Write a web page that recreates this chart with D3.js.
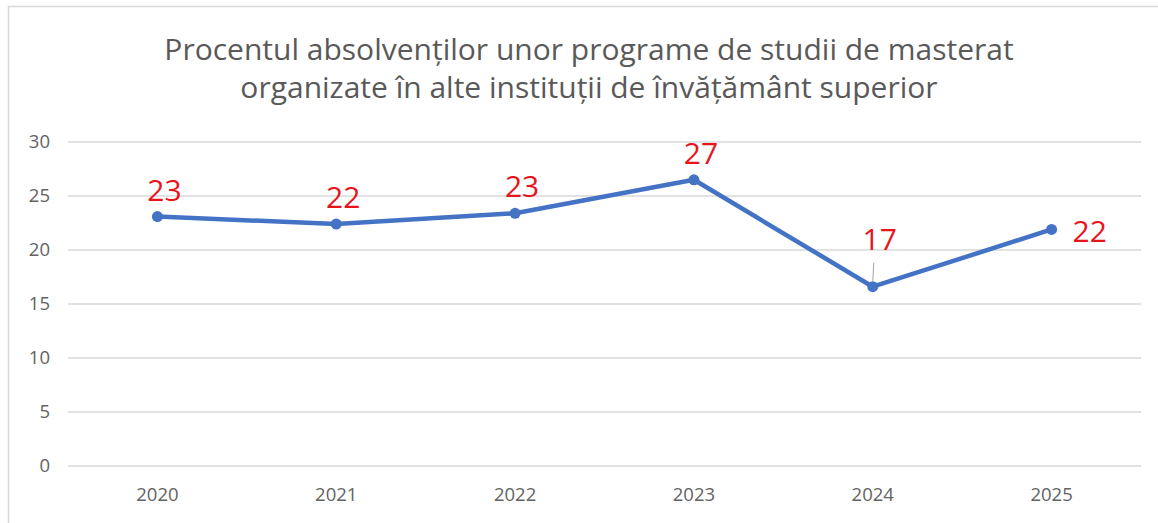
<!DOCTYPE html>
<html>
<head>
<meta charset="utf-8">
<script src="https://cdn.jsdelivr.net/npm/d3@7"></script>
<style>
    html, body { margin: 0; padding: 0; background: #fff; }
    svg { display: block; }
</style>
</head>
<body>
<div id="chart"></div>
<script>
/*
 * Chart data.
 */
var years = ['2020', '2021', '2022', '2023', '2024', '2025'];
var values = [23.1, 22.4, 23.4, 26.5, 16.6, 21.9];
var labels = ['23', '22', '23', '27', '17', '22'];
var yTicks = [0, 5, 10, 15, 20, 25, 30];
var titleLines = [
    'Procentul absolvenților unor programe de studii de masterat',
    'organizate în alte instituții de învățământ superior'
];

var width = 1158, height = 523;
var margin = {top: 142, right: 17, bottom: 57, left: 68};
var font = '"Open Sans", Lato, sans-serif';

var svg = d3.select('#chart').append('svg')
    .attr('width', width)
    .attr('height', height);
/*
 * Chart area border (left and top only are visible in the crop).
 */
svg.append('path')
    .attr('d', 'M8.5,' + height + 'V6.5H' + width)
    .attr('fill', 'none')
    .attr('stroke', '#d9d9d9')
    .attr('stroke-width', 1.5);
/*
 * Title.
 */
svg.append('text')
    .attr('font-family', font)
    .attr('font-size', 30)
    .attr('fill', '#595959')
    .attr('text-anchor', 'middle')
    .selectAll('tspan')
    .data(titleLines)
    .join('tspan')
    .attr('x', 589)
    .attr('y', (d, i) => 60 + i * 38)
    .text(d => d);

/*
 * Scales.
 */
var x = d3.scaleBand()
    .domain(years)
    .range([margin.left, width - margin.right]);
var y = d3.scaleLinear()
    .domain([0, 30])
    .range([height - margin.bottom, margin.top]);
var cx = d => x(d) + x.bandwidth() / 2;

/*
 * Grid lines.
 */
svg.append('g')
    .selectAll('line')
    .data(yTicks)
    .join('line')
    .attr('x1', margin.left)
    .attr('x2', width - margin.right)
    .attr('y1', d => y(d))
    .attr('y2', d => y(d))
    .attr('stroke', '#d9d9d9')
    .attr('stroke-width', 1.5);

/*
 * Axes.
 */
var yAxis = svg.append('g')
    .attr('transform', 'translate(' + (margin.left - 18) + ',0)')
    .call(d3.axisLeft(y).tickValues(yTicks).tickSize(0).tickPadding(0));
var xAxis = svg.append('g')
    .attr('transform', 'translate(0,' + (height - margin.bottom) + ')')
    .call(d3.axisBottom(x).tickSize(0).tickPadding(22));
[yAxis, xAxis].forEach(function(axis) {
    axis.select('.domain').remove();
    axis.selectAll('text')
        .attr('font-family', font)
        .attr('font-size', 18.5)
        .attr('fill', '#636363');
});

/*
 * Series line and markers.
 */
var line = d3.line()
    .x((d, i) => cx(years[i]))
    .y(d => y(d));
svg.append('path')
    .datum(values)
    .attr('d', line)
    .attr('fill', 'none')
    .attr('stroke', '#4472c4')
    .attr('stroke-width', 4.5)
    .attr('stroke-linejoin', 'round');
svg.append('g')
    .selectAll('circle')
    .data(values)
    .join('circle')
    .attr('cx', (d, i) => cx(years[i]))
    .attr('cy', d => y(d))
    .attr('r', 5.5)
    .attr('fill', '#4472c4');

/*
 * Leader line for 2024 label.
 */
svg.append('line')
    .attr('x1', cx('2024') + 1)
    .attr('x2', cx('2024'))
    .attr('y1', y(values[4]) - 24)
    .attr('y2', y(values[4]) - 5)
    .attr('stroke', '#a6a6a6')
    .attr('stroke-width', 1);

/*
 * Data labels.
 */
svg.append('g')
    .selectAll('text')
    .data(values)
    .join('text')
    .attr('font-family', font)
    .attr('font-size', 30)
    .attr('fill', '#e8141c')
    .attr('text-anchor', (d, i) => i === 5 ? 'start' : 'middle')
    .attr('x', (d, i) => i === 5 ? cx(years[i]) + 21 : cx(years[i]) + 7)
    .attr('y', (d, i) => i === 4 ? y(d) - 37 : (i === 5 ? y(d) + 13 : y(d) - 16))
    .text((d, i) => labels[i]);
</script>
</body>
</html>
